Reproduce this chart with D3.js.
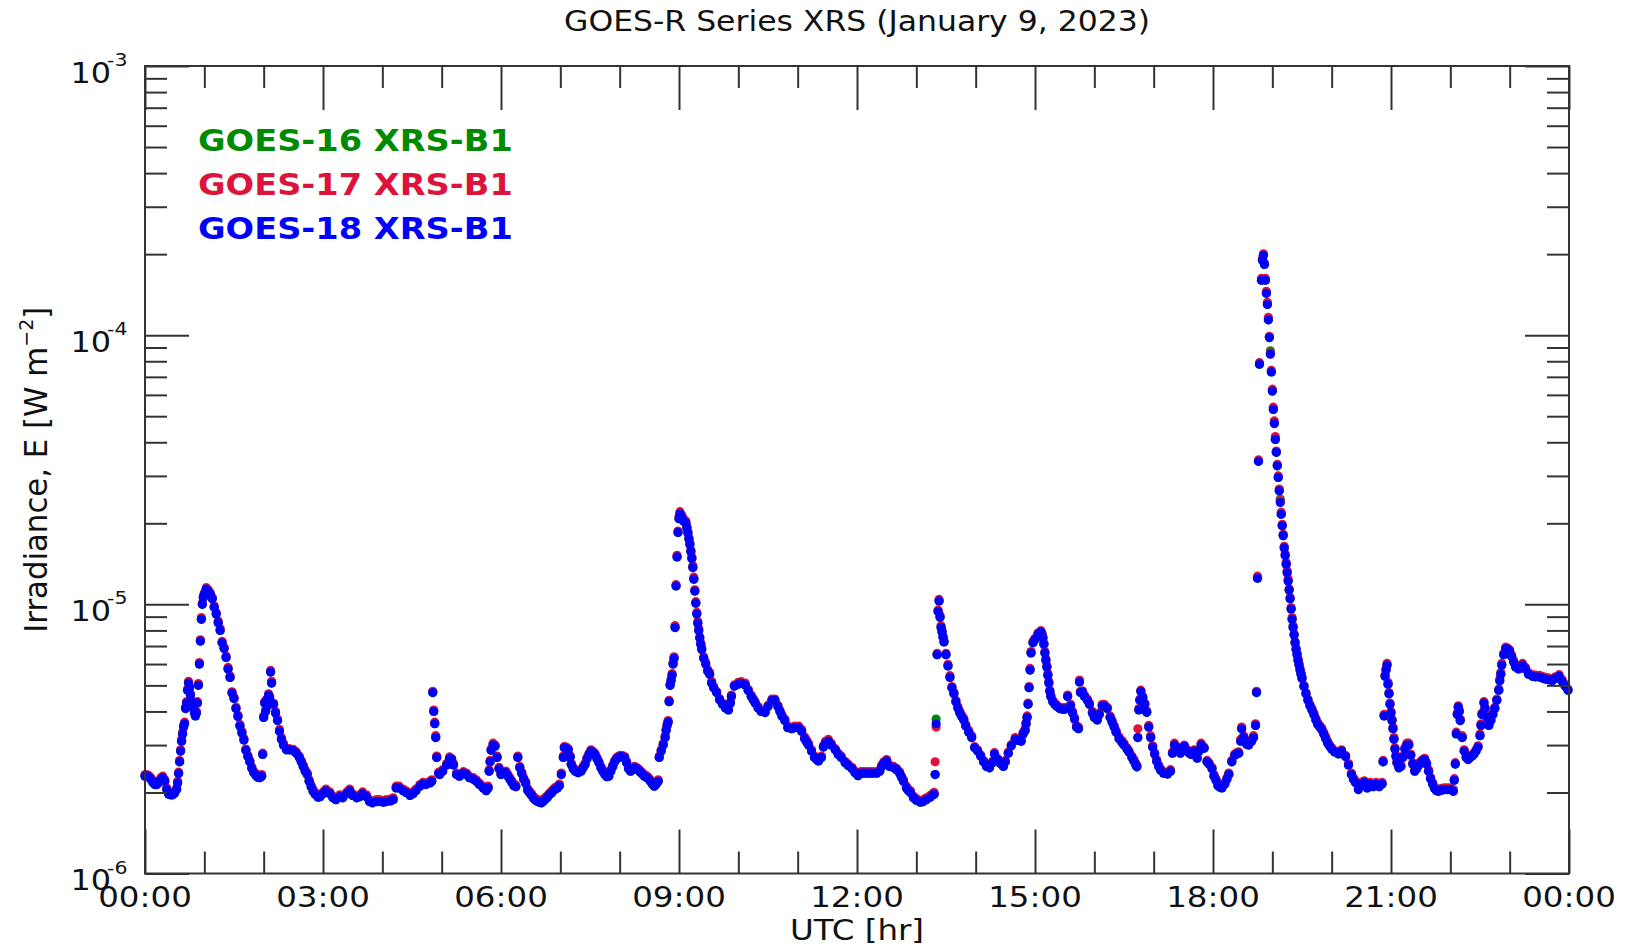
<!DOCTYPE html>
<html>
<head>
<meta charset="utf-8">
<title>GOES-R Series XRS (January 9, 2023)</title>
<script src="https://cdn.jsdelivr.net/npm/d3@7"></script>
<style>
  body { margin: 0; background: #fff; }
  text { font-family: "DejaVu Sans", sans-serif; fill: #111; }
</style>
</head>
<body>
<svg id="xrs" width="1631" height="947"></svg>
<script>
// minutes after 00:00 UTC, 9 January 2023
var minutes = [
  0,2,4,6,8,10,12,14,16,18,20,22,24,26,28,30,
  32,33,34,35,36,37,38,39,40,41,42,43,44,45,46,47,
  48,49,50,51,52,53,54,55,56,57,58,59,60,62,64,66,
  68,70,72,74,76,78,80,82,84,86,88,90,92,94,96,98,
  100,102,104,106,108,110,112,114,116,118,119,120,121,122,123,124,
  125,126,127,128,130,132,134,136,138,140,143,146,150,153,156,158,
  160,162,164,166,168,170,172,175,177,180,183,187,190,193,197,200,
  204,207,210,214,217,220,224,227,230,234,237,241,244,248,251,254,
  257,261,264,268,271,274,278,281,284,288,290,291,292,293,294,295,
  297,298,301,305,308,310,312,315,318,322,325,328,332,335,338,342,
  345,347,348,349,350,352,354,356,358,360,362,365,367,369,371,373,
  375,377,379,381,383,385,387,389,391,393,395,397,399,401,403,405,
  407,409,411,413,415,417,419,421,423,424,426,428,430,431,433,435,
  438,441,443,445,447,449,451,453,455,457,459,461,463,465,467,469,
  471,473,475,477,479,481,483,485,487,489,491,493,495,497,499,501,
  503,505,507,509,511,513,515,517,519,520,522,524,526,527,528,529,
  530,531,532,533,534,535,536,537,538,539,540,541,543,545,547,548,
  549,550,551,552,553,554,555,556,557,558,559,560,561,562,563,565,
  567,569,571,573,575,578,581,584,587,590,592,593,596,600,603,607,
  610,613,615,617,620,623,627,630,634,637,640,642,644,647,650,654,
  657,661,664,667,669,671,674,677,679,681,684,686,688,691,694,698,
  701,704,708,711,715,718,721,724,727,730,733,736,740,743,745,747,
  750,753,757,760,763,765,767,770,772,774,777,780,784,787,790,794,
  797,798,799,800,801,802,803,804,805,806,807,808,810,812,814,816,
  818,820,822,824,826,828,830,833,836,839,842,845,848,851,854,857,
  859,862,865,868,870,873,876,880,883,886,888,890,891,892,893,894,
  895,896,898,900,903,906,907,908,909,910,911,912,913,914,915,916,
  918,920,922,925,928,930,933,936,938,940,942,944,945,946,948,950,
  953,955,958,960,963,965,968,970,973,976,978,980,982,985,988,990,
  993,995,998,1000,1002,1003,1004,1005,1006,1007,1009,1011,1013,1015,1017,1019,
  1021,1023,1025,1027,1030,1034,1037,1039,1041,1044,1047,1049,1051,1054,1056,1058,
  1061,1064,1066,1068,1071,1074,1076,1079,1081,1083,1085,1087,1089,1092,1094,1096,
  1099,1102,1104,1106,1108,1109,1111,1112,1114,1116,1119,1121,1123,1124,1125,1126,
  1127,1129,1130,1131,1132,1133,1134,1135,1136,1137,1138,1139,1140,1141,1142,1143,
  1144,1145,1146,1147,1148,1149,1150,1151,1152,1153,1154,1155,1156,1157,1158,1159,
  1160,1161,1162,1163,1164,1165,1166,1167,1168,1169,1170,1172,1174,1176,1178,1180,
  1182,1184,1186,1188,1190,1192,1194,1196,1198,1200,1203,1207,1210,1214,1217,1220,
  1222,1224,1227,1230,1233,1236,1239,1242,1245,1248,1251,1252,1253,1254,1255,1256,
  1257,1258,1259,1260,1261,1262,1263,1264,1265,1266,1268,1270,1272,1274,1276,1278,
  1280,1282,1284,1286,1288,1290,1292,1294,1296,1298,1300,1302,1304,1306,1308,1311,
  1314,1317,1320,1323,1324,1325,1326,1327,1328,1329,1330,1332,1334,1336,1338,1340,
  1342,1344,1346,1348,1350,1351,1352,1354,1355,1357,1359,1361,1363,1365,1367,1369,
  1370,1371,1372,1374,1376,1378,1380,1382,1384,1386,1389,1391,1393,1396,1399,1403,
  1406,1410,1413,1416,1419,1423,1426,1430,1433,1436,1439
];

// XRS-B1 irradiance, in units of 1e-6 W m^-2
var goes16 = [
  2.3,2.3,2.28,2.24,2.18,2.14,2.14,2.18,2.24,2.27,2.2,2.05,1.97,1.96,1.96,1.99,
  2.05,2.17,2.35,2.6,2.85,3.1,3.3,3.5,3.6,4.1,4.3,4.8,5.1,4.9,4.6,4.35,
  4.3,4.1,3.95,3.85,3.95,4.3,5.0,6.0,7.3,8.8,10.0,10.6,10.9,11.4,11.2,10.9,
  10.5,9.75,9.2,8.55,8.0,7.2,6.85,6.35,5.75,5.35,4.68,4.47,4.1,3.83,3.53,3.33,
  3.13,2.87,2.72,2.6,2.46,2.37,2.32,2.28,2.27,2.3,2.77,3.8,4.3,4.0,4.4,4.2,
  4.6,4.5,5.6,5.1,4.25,3.95,3.7,3.38,3.15,3.0,2.88,2.88,2.86,2.8,2.7,2.6,
  2.5,2.4,2.33,2.2,2.1,2.02,1.97,1.92,1.93,1.98,2.03,1.98,1.91,1.88,1.93,1.91,
  1.98,2.03,1.95,1.91,1.93,1.98,1.93,1.85,1.83,1.85,1.85,1.84,1.85,1.86,1.88,2.08,
  2.08,2.03,2.0,1.95,1.98,2.03,2.11,2.15,2.14,2.17,2.2,4.7,4.0,3.6,3.2,2.7,
  2.35,2.33,2.4,2.53,2.68,2.65,2.53,2.33,2.3,2.36,2.33,2.27,2.24,2.2,2.14,2.08,
  2.03,2.08,2.4,2.6,2.87,3.0,2.97,2.7,2.45,2.33,2.36,2.37,2.3,2.24,2.18,2.12,
  2.1,2.7,2.47,2.35,2.24,2.16,2.04,1.99,1.95,1.9,1.87,1.85,1.84,1.83,1.86,1.89,
  1.92,1.96,1.99,2.03,2.06,2.08,2.12,2.33,2.7,2.93,2.92,2.88,2.71,2.54,2.45,2.4,
  2.37,2.4,2.47,2.54,2.67,2.77,2.85,2.81,2.77,2.67,2.58,2.47,2.4,2.33,2.29,2.3,
  2.4,2.5,2.6,2.67,2.7,2.72,2.71,2.69,2.58,2.45,2.4,2.43,2.47,2.45,2.42,2.38,
  2.34,2.3,2.28,2.25,2.2,2.15,2.11,2.15,2.2,2.7,2.85,3.0,3.2,3.4,3.55,3.65,
  4.35,5.0,5.2,5.45,6.0,6.3,8.2,11.7,15,18.5,20.8,21.7,21.0,20.3,20.0,19.2,
  18.4,17.5,16.7,15.7,14.8,13.7,12.4,11.2,10.1,9.2,8.5,8.0,7.5,7.1,6.8,6.3,
  6.0,5.65,5.5,5.1,4.9,4.7,4.42,4.25,4.12,4.05,4.3,4.55,4.97,5.05,5.08,5.02,
  4.78,4.55,4.42,4.3,4.12,4.0,3.96,4.17,4.4,4.4,4.17,4.0,3.85,3.7,3.48,3.45,
  3.48,3.48,3.38,3.17,3.08,3.0,2.85,2.7,2.66,2.62,2.7,2.95,3.05,3.1,3.0,2.88,
  2.77,2.7,2.58,2.52,2.45,2.37,2.31,2.36,2.36,2.36,2.36,2.36,2.36,2.4,2.5,2.57,
  2.62,2.5,2.47,2.43,2.36,2.28,2.2,2.08,2.03,2.0,1.91,1.87,1.84,1.85,1.88,1.92,
  1.96,1.97,2.33,3.75,6.5,9.4,10.3,8.95,8.2,7.9,7.55,7.25,6.5,5.9,5.35,4.9,
  4.65,4.35,4.12,3.95,3.82,3.72,3.53,3.35,3.2,2.93,2.85,2.73,2.6,2.5,2.47,2.58,
  2.78,2.65,2.56,2.5,2.6,2.8,2.98,3.15,3.12,3.1,3.3,3.4,3.6,3.8,4.25,4.9,
  5.7,6.6,7.2,7.4,7.75,7.9,7.75,7.5,7.1,6.6,6.2,5.85,5.45,5.1,4.75,4.55,
  4.35,4.25,4.18,4.1,4.08,4.08,4.55,4.2,3.95,3.75,3.5,3.45,5.15,4.7,4.72,4.55,
  4.4,4.25,3.95,3.8,3.72,3.9,4.2,4.2,4.1,3.8,3.65,3.5,3.35,3.17,3.07,3.0,
  2.9,2.83,2.7,2.62,2.53,2.49,3.2,4.05,4.4,4.75,4.5,4.25,3.97,3.5,3.2,2.95,
  2.78,2.62,2.5,2.42,2.36,2.34,2.4,2.8,3.0,2.92,2.8,2.9,2.97,2.85,2.8,2.77,
  2.85,2.68,2.85,3.0,2.92,2.6,2.55,2.45,2.3,2.22,2.12,2.09,2.08,2.15,2.24,2.33,
  2.6,2.75,2.78,2.8,3.1,3.45,3.2,3.1,3.02,3.0,3.1,3.2,3.55,4.7,12.5,34,
  78,160,190,198,183,160,143,130,114,98,87.5,73,62,53,47,41,
  36.7,32.7,29.6,26.4,24.6,21.6,19.6,18.0,16.2,15.2,14.1,13.1,12.2,11.3,10.5,9.6,
  8.8,8.2,7.7,7.2,6.8,6.5,6.2,5.95,5.7,5.5,5.3,4.95,4.65,4.4,4.2,4.05,
  3.9,3.72,3.58,3.5,3.42,3.3,3.17,3.05,2.97,2.9,2.83,2.78,2.85,2.72,2.53,2.33,
  2.24,2.18,2.05,2.15,2.18,2.08,2.15,2.1,2.15,2.1,2.15,2.6,3.85,5.4,5.7,5.95,
  5.05,4.65,4.25,3.95,3.7,3.45,3.15,2.9,2.72,2.58,2.47,2.5,2.7,2.9,3.0,3.0,
  2.75,2.55,2.4,2.45,2.53,2.58,2.62,2.65,2.55,2.4,2.25,2.15,2.07,2.03,2.02,2.04,
  2.05,2.05,2.05,2.02,2.22,2.55,3.3,3.9,4.15,4.0,3.7,3.2,2.85,2.7,2.65,2.7,
  2.73,2.78,2.85,2.95,3.25,3.55,3.9,4.3,4.1,3.8,3.55,3.7,3.9,4.1,4.4,4.8,
  5.2,5.5,5.95,6.5,6.85,6.8,6.7,6.4,6.1,5.85,5.75,5.85,5.95,5.75,5.5,5.4,
  5.38,5.37,5.32,5.28,5.25,5.2,5.3,5.4,5.18,4.97,4.8
];

var goes17 = [
  2.33,2.33,2.31,2.27,2.21,2.17,2.17,2.21,2.27,2.3,2.23,2.08,2.0,1.99,1.99,2.02,
  2.08,2.2,2.38,2.63,2.88,3.15,3.35,3.55,3.65,4.15,4.35,4.85,5.18,4.95,4.65,4.4,
  4.35,4.15,4.0,3.9,4.0,4.35,5.08,6.08,7.38,8.93,10.13,10.73,11.03,11.53,11.33,11.03,
  10.63,9.88,9.33,8.68,8.13,7.28,6.93,6.43,5.83,5.43,4.73,4.52,4.15,3.88,3.58,3.38,
  3.18,2.9,2.75,2.63,2.49,2.4,2.35,2.31,2.3,2.33,2.8,3.85,4.35,4.05,4.45,4.25,
  4.65,4.55,5.68,5.18,4.3,4.0,3.75,3.43,3.2,3.05,2.91,2.91,2.89,2.83,2.73,2.63,
  2.53,2.43,2.36,2.23,2.13,2.05,2.0,1.95,1.96,2.01,2.06,2.01,1.94,1.91,1.96,1.94,
  2.01,2.06,1.98,1.94,1.96,2.01,1.96,1.88,1.86,1.88,1.88,1.87,1.88,1.89,1.91,2.11,
  2.11,2.06,2.03,1.98,2.01,2.06,2.14,2.18,2.17,2.2,2.23,4.75,4.05,3.65,3.25,2.73,
  2.38,2.36,2.43,2.56,2.71,2.68,2.56,2.36,2.33,2.39,2.36,2.3,2.27,2.23,2.17,2.11,
  2.06,2.11,2.43,2.63,2.9,3.05,3.0,2.73,2.48,2.36,2.39,2.4,2.33,2.27,2.21,2.15,
  2.13,2.73,2.5,2.38,2.27,2.19,2.07,2.02,1.98,1.93,1.9,1.88,1.87,1.86,1.89,1.92,
  1.95,1.99,2.02,2.06,2.09,2.11,2.15,2.36,2.73,2.96,2.95,2.91,2.74,2.57,2.48,2.43,
  2.4,2.43,2.5,2.57,2.7,2.8,2.88,2.84,2.8,2.7,2.61,2.5,2.43,2.36,2.32,2.33,
  2.43,2.53,2.63,2.7,2.73,2.75,2.74,2.72,2.61,2.48,2.43,2.46,2.5,2.48,2.45,2.41,
  2.37,2.33,2.31,2.28,2.23,2.18,2.14,2.18,2.23,2.73,2.88,3.05,3.25,3.45,3.6,3.7,
  4.4,5.08,5.28,5.53,6.08,6.38,8.33,11.83,15.22,18.72,21.2,22.1,21.4,20.7,20.4,19.42,
  18.62,17.72,16.92,15.92,15.02,13.92,12.62,11.33,10.23,9.33,8.63,8.13,7.58,7.18,6.88,6.38,
  6.08,5.73,5.58,5.18,4.95,4.75,4.47,4.3,4.17,4.1,4.35,4.6,5.02,5.13,5.16,5.1,
  4.83,4.6,4.47,4.35,4.17,4.05,4.01,4.22,4.45,4.45,4.22,4.05,3.9,3.75,3.53,3.5,
  3.53,3.53,3.43,3.22,3.13,3.05,2.88,2.73,2.69,2.65,2.73,2.98,3.1,3.15,3.05,2.91,
  2.8,2.73,2.61,2.55,2.48,2.4,2.34,2.39,2.39,2.39,2.39,2.39,2.39,2.43,2.53,2.6,
  2.65,2.53,2.5,2.46,2.39,2.31,2.23,2.11,2.06,2.03,1.94,1.9,1.87,1.88,1.91,1.95,
  1.99,2.0,2.6,3.5,6.58,9.53,10.43,9.08,8.33,7.98,7.63,7.33,6.58,5.98,5.43,4.95,
  4.7,4.4,4.17,4.0,3.87,3.77,3.58,3.4,3.25,2.96,2.88,2.76,2.63,2.53,2.5,2.61,
  2.81,2.68,2.59,2.53,2.63,2.83,3.01,3.2,3.17,3.15,3.35,3.45,3.65,3.85,4.3,4.95,
  5.78,6.68,7.28,7.48,7.83,7.98,7.83,7.58,7.18,6.68,6.28,5.93,5.53,5.18,4.8,4.6,
  4.4,4.3,4.23,4.15,4.13,4.13,4.6,4.25,4.0,3.8,3.55,3.5,5.23,4.75,4.77,4.6,
  4.45,4.3,4.0,3.85,3.77,3.95,4.25,4.25,4.15,3.85,3.7,3.55,3.4,3.22,3.12,3.05,
  2.93,2.86,2.73,2.65,2.56,2.52,3.45,4.1,4.45,4.8,4.55,4.3,4.02,3.55,3.25,2.98,
  2.81,2.65,2.53,2.45,2.39,2.37,2.43,2.83,3.05,2.95,2.83,2.93,3.0,2.88,2.83,2.8,
  2.88,2.71,2.88,3.05,2.95,2.63,2.58,2.48,2.33,2.25,2.15,2.12,2.11,2.18,2.27,2.36,
  2.63,2.78,2.81,2.83,3.15,3.5,3.25,3.15,3.07,3.05,3.15,3.25,3.6,4.75,12.72,34.4,
  79,162.5,192.5,200.5,185.5,162.5,145.5,132.5,116.5,99,86,74,63,54,48,42,
  37.1,33.1,30,26.8,24.3,22,19.82,18.22,16.42,15.42,14.32,13.32,12.42,11.43,10.63,9.73,
  8.93,8.33,7.78,7.28,6.88,6.58,6.28,6.03,5.78,5.58,5.38,5.0,4.7,4.45,4.25,4.1,
  3.95,3.77,3.63,3.55,3.47,3.35,3.22,3.1,3.0,2.93,2.86,2.81,2.88,2.75,2.56,2.36,
  2.27,2.21,2.08,2.18,2.21,2.11,2.18,2.13,2.18,2.13,2.18,2.63,3.9,5.48,5.78,6.03,
  5.13,4.7,4.3,4.0,3.75,3.5,3.2,2.93,2.75,2.61,2.5,2.53,2.73,2.93,3.05,3.05,
  2.78,2.58,2.43,2.48,2.56,2.61,2.65,2.68,2.58,2.43,2.28,2.18,2.1,2.06,2.05,2.07,
  2.08,2.08,2.08,2.05,2.25,2.58,3.35,3.95,4.2,4.05,3.75,3.25,2.88,2.73,2.68,2.73,
  2.76,2.81,2.88,2.98,3.3,3.6,3.95,4.35,4.15,3.85,3.6,3.75,3.95,4.15,4.45,4.85,
  5.28,5.58,6.03,6.58,6.93,6.88,6.78,6.48,6.18,5.93,5.83,5.93,6.03,5.83,5.58,5.48,
  5.46,5.45,5.4,5.36,5.33,5.28,5.38,5.48,5.26,5.05,4.85
];

var goes18 = [
  2.3,2.3,2.28,2.24,2.18,2.14,2.14,2.18,2.24,2.27,2.2,2.05,1.97,1.96,1.96,1.99,
  2.05,2.17,2.35,2.6,2.85,3.1,3.3,3.5,3.6,4.1,4.3,4.8,5.1,4.9,4.6,4.35,
  4.3,4.1,3.95,3.85,3.95,4.3,5.0,6.0,7.3,8.8,10.0,10.6,10.9,11.4,11.2,10.9,
  10.5,9.75,9.2,8.55,8.0,7.2,6.85,6.35,5.75,5.35,4.68,4.47,4.1,3.83,3.53,3.33,
  3.13,2.87,2.72,2.6,2.46,2.37,2.32,2.28,2.27,2.3,2.77,3.8,4.3,4.0,4.4,4.2,
  4.6,4.5,5.6,5.1,4.25,3.95,3.7,3.38,3.15,3.0,2.88,2.88,2.86,2.8,2.7,2.6,
  2.5,2.4,2.33,2.2,2.1,2.02,1.97,1.92,1.93,1.98,2.03,1.98,1.91,1.88,1.93,1.91,
  1.98,2.03,1.95,1.91,1.93,1.98,1.93,1.85,1.83,1.85,1.85,1.84,1.85,1.86,1.88,2.08,
  2.08,2.03,2.0,1.95,1.98,2.03,2.11,2.15,2.14,2.17,2.2,4.7,4.0,3.6,3.2,2.7,
  2.35,2.33,2.4,2.53,2.68,2.65,2.53,2.33,2.3,2.36,2.33,2.27,2.24,2.2,2.14,2.08,
  2.03,2.08,2.4,2.6,2.87,3.0,2.97,2.7,2.45,2.33,2.36,2.37,2.3,2.24,2.18,2.12,
  2.1,2.7,2.47,2.35,2.24,2.16,2.04,1.99,1.95,1.9,1.87,1.85,1.84,1.83,1.86,1.89,
  1.92,1.96,1.99,2.03,2.06,2.08,2.12,2.33,2.7,2.93,2.92,2.88,2.71,2.54,2.45,2.4,
  2.37,2.4,2.47,2.54,2.67,2.77,2.85,2.81,2.77,2.67,2.58,2.47,2.4,2.33,2.29,2.3,
  2.4,2.5,2.6,2.67,2.7,2.72,2.71,2.69,2.58,2.45,2.4,2.43,2.47,2.45,2.42,2.38,
  2.34,2.3,2.28,2.25,2.2,2.15,2.11,2.15,2.2,2.7,2.85,3.0,3.2,3.4,3.55,3.65,
  4.35,5.0,5.2,5.45,6.0,6.3,8.2,11.7,15,18.5,20.8,21.7,21.0,20.3,20.0,19.2,
  18.4,17.5,16.7,15.7,14.8,13.7,12.4,11.2,10.1,9.2,8.5,8.0,7.5,7.1,6.8,6.3,
  6.0,5.65,5.5,5.1,4.9,4.7,4.42,4.25,4.12,4.05,4.3,4.55,4.97,5.05,5.08,5.02,
  4.78,4.55,4.42,4.3,4.12,4.0,3.96,4.17,4.4,4.4,4.17,4.0,3.85,3.7,3.48,3.45,
  3.48,3.48,3.38,3.17,3.08,3.0,2.85,2.7,2.66,2.62,2.7,2.95,3.05,3.1,3.0,2.88,
  2.77,2.7,2.58,2.52,2.45,2.37,2.31,2.36,2.36,2.36,2.36,2.36,2.36,2.4,2.5,2.57,
  2.62,2.5,2.47,2.43,2.36,2.28,2.2,2.08,2.03,2.0,1.91,1.87,1.84,1.85,1.88,1.92,
  1.96,1.97,2.33,3.6,6.5,9.4,10.3,8.95,8.2,7.9,7.55,7.25,6.5,5.9,5.35,4.9,
  4.65,4.35,4.12,3.95,3.82,3.72,3.53,3.35,3.2,2.93,2.85,2.73,2.6,2.5,2.47,2.58,
  2.78,2.65,2.56,2.5,2.6,2.8,2.98,3.15,3.12,3.1,3.3,3.4,3.6,3.8,4.25,4.9,
  5.7,6.6,7.2,7.4,7.75,7.9,7.75,7.5,7.1,6.6,6.2,5.85,5.45,5.1,4.75,4.55,
  4.35,4.25,4.18,4.1,4.08,4.08,4.55,4.2,3.95,3.75,3.5,3.45,5.15,4.7,4.72,4.55,
  4.4,4.25,3.95,3.8,3.72,3.9,4.2,4.2,4.1,3.8,3.65,3.5,3.35,3.17,3.07,3.0,
  2.9,2.83,2.7,2.62,2.53,2.49,3.2,4.05,4.4,4.75,4.5,4.25,3.97,3.5,3.2,2.95,
  2.78,2.62,2.5,2.42,2.36,2.34,2.4,2.8,3.0,2.92,2.8,2.9,2.97,2.85,2.8,2.77,
  2.85,2.68,2.85,3.0,2.92,2.6,2.55,2.45,2.3,2.22,2.12,2.09,2.08,2.15,2.24,2.33,
  2.6,2.75,2.78,2.8,3.1,3.45,3.2,3.1,3.02,3.0,3.1,3.2,3.55,4.7,12.5,34,
  78,160,190,198,183,160,143,130,114,98,85,73,62,53,47,41,
  36.7,32.7,29.6,26.4,23.9,21.6,19.6,18.0,16.2,15.2,14.1,13.1,12.2,11.3,10.5,9.6,
  8.8,8.2,7.7,7.2,6.8,6.5,6.2,5.95,5.7,5.5,5.3,4.95,4.65,4.4,4.2,4.05,
  3.9,3.72,3.58,3.5,3.42,3.3,3.17,3.05,2.97,2.9,2.83,2.78,2.85,2.72,2.53,2.33,
  2.24,2.18,2.05,2.15,2.18,2.08,2.15,2.1,2.15,2.1,2.15,2.6,3.85,5.4,5.7,5.95,
  5.05,4.65,4.25,3.95,3.7,3.45,3.15,2.9,2.72,2.58,2.47,2.5,2.7,2.9,3.0,3.0,
  2.75,2.55,2.4,2.45,2.53,2.58,2.62,2.65,2.55,2.4,2.25,2.15,2.07,2.03,2.02,2.04,
  2.05,2.05,2.05,2.02,2.22,2.55,3.3,3.9,4.15,4.0,3.7,3.2,2.85,2.7,2.65,2.7,
  2.73,2.78,2.85,2.95,3.25,3.55,3.9,4.3,4.1,3.8,3.55,3.7,3.9,4.1,4.4,4.8,
  5.2,5.5,5.95,6.5,6.85,6.8,6.7,6.4,6.1,5.85,5.75,5.85,5.95,5.75,5.5,5.4,
  5.38,5.37,5.32,5.28,5.25,5.2,5.3,5.4,5.18,4.97,4.8
];

var seriesNames = ["GOES-16 XRS-B1", "GOES-17 XRS-B1", "GOES-18 XRS-B1"];
var seriesColors = ["#008a00", "#dc143c", "#0000ff"];
var hourTicks = d3.range(0, 25);
var decadeTicks = [1e-6, 1e-5, 1e-4, 1e-3];
var decadeExponents = ["-6", "-5", "-4", "-3"];

[goes16, goes17, goes18].forEach(function (s, i) {
  if (s.length !== minutes.length) throw new Error("series " + i + " has " + s.length + " values, minutes has " + minutes.length);
});

var svg = d3.select("#xrs"),
  margin = { top: 66, right: 62, bottom: 73.5, left: 145 },
  width = +svg.attr("width"),
  height = +svg.attr("height"),
  axisColor = "#333",
  stretch = 1.14;

var day0 = Date.UTC(2023, 0, 9);
var hourDate = (h) => new Date(day0 + h * 36e5);

var x = d3.scaleUtc()
  .domain([hourDate(0), hourDate(24)])
  .range([margin.left, width - margin.right]);

var y = d3.scaleLog()
  .domain([1e-6, 1e-3])
  .range([height - margin.bottom, margin.top]);

// dots: GOES-16 first, GOES-18 drawn last on top
var series = [goes16, goes17, goes18].map(function (vals, i) {
  return {
    name: seriesNames[i],
    color: seriesColors[i],
    points: minutes.map((m, j) => ({ date: new Date(day0 + m * 6e4), value: vals[j] * 1e-6 }))
  };
});

svg.append("g")
  .selectAll("g")
  .data(series)
  .join("g")
  .attr("fill", (d) => d.color)
  .selectAll("circle")
  .data((d) => d.points)
  .join("circle")
  .attr("cx", (d) => x(d.date))
  .attr("cy", (d) => y(d.value))
  .attr("r", 4.6);

// ticks point inward on all four sides
var majorX = hourTicks.filter((h) => h % 3 === 0).map(hourDate);
var minorX = hourTicks.filter((h) => h % 3 !== 0).map(hourDate);
var minorY = [];
decadeTicks.slice(0, 3).forEach((d) => d3.range(2, 10).forEach((k) => minorY.push(d * k)));

function tickAxis(axis, values, size, transform) {
  svg.append("g")
    .attr("transform", transform)
    .call(axis.tickValues(values).tickSize(size).tickFormat(""))
    .call((g) => g.select(".domain").remove())
    .call((g) => g.selectAll("line").attr("stroke", axisColor).attr("stroke-width", 2));
}

var bottom = height - margin.bottom, right = width - margin.right;
tickAxis(d3.axisBottom(x), majorX, -44, "translate(0," + bottom + ")");
tickAxis(d3.axisBottom(x), minorX, -22, "translate(0," + bottom + ")");
tickAxis(d3.axisTop(x), majorX, -44, "translate(0," + margin.top + ")");
tickAxis(d3.axisTop(x), minorX, -22, "translate(0," + margin.top + ")");
tickAxis(d3.axisLeft(y), decadeTicks, -44, "translate(" + margin.left + ",0)");
tickAxis(d3.axisLeft(y), minorY, -22, "translate(" + margin.left + ",0)");
tickAxis(d3.axisRight(y), decadeTicks, -44, "translate(" + right + ",0)");
tickAxis(d3.axisRight(y), minorY, -22, "translate(" + right + ",0)");

svg.append("rect")
  .attr("x", margin.left)
  .attr("y", margin.top)
  .attr("width", right - margin.left)
  .attr("height", bottom - margin.top)
  .attr("fill", "none")
  .attr("stroke", axisColor)
  .attr("stroke-width", 2);

// text helper: glyphs in the reference are a little wider than DejaVu
function addText(px, py, size, anchor) {
  return svg.append("text")
    .attr("transform", "translate(" + px + "," + py + ") scale(" + stretch + ",1)")
    .attr("font-size", size)
    .attr("text-anchor", anchor);
}

var plotMid = (margin.left + right) / 2;

addText(plotMid, 31, 27.6, "middle").text("GOES-R Series XRS (January 9, 2023)");

var fmt = d3.utcFormat("%H:%M");
majorX.forEach((d) => addText(x(d), 907, 28.5, "middle").text(fmt(d)));

addText(plotMid, 940, 28.5, "middle").text("UTC [hr]");

decadeTicks.forEach(function (d, i) {
  addText(margin.left - 34, y(d) + 16.5, 28, "end").text("10");
  addText(margin.left - 38, y(d), 18, "start").text(decadeExponents[i]);
});

var ylab = svg.append("text")
  .attr("transform", "translate(47," + ((margin.top + bottom) / 2) + ") scale(1.05,1) rotate(-90)")
  .attr("font-size", 30.8)
  .attr("text-anchor", "middle");
ylab.append("tspan").text("Irradiance, E [W m");
ylab.append("tspan").attr("font-size", 19).attr("dy", -13).text("\u22122");
ylab.append("tspan").attr("dy", 13).text("]");

seriesNames.forEach(function (name, i) {
  addText(198, 151 + i * 44, 29.5, "start")
    .attr("font-weight", "bold")
    .style("fill", seriesColors[i])
    .text(name);
});
</script>
</body>
</html>
